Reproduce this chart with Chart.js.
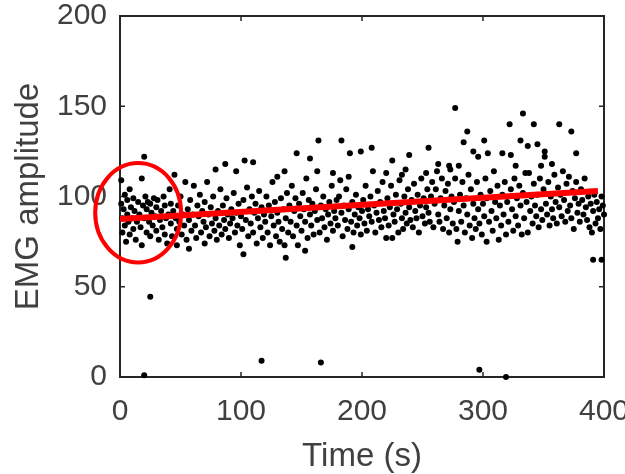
<!DOCTYPE html>
<html>
<head>
<meta charset="utf-8">
<script src="https://cdn.jsdelivr.net/npm/chart.js@4"></script>
<style>
    html, body { margin: 0; padding: 0; background: #ffffff; }
    #wrap { width: 625px; height: 474px; }
</style>
</head>
<body>
<div id="wrap"><canvas id="emgChart" width="625" height="474"></canvas></div>
<script>
// EMG amplitude over time - scatter with linear fit

// Samples: [time (s), EMG amplitude]
const emgSamples = [
    [1,109],[1,96],[2,88],[2,80],[3,93],[4,101],[4,84],[5,75],[6,90],[6,98],[7,86],[8,79],[8,104],[9,94],[10,88],[11,82],[11,99],[12,92],[13,76],[14,86],[15,97],[16,90],[17,83],[18,110],[18,73],[19,95],
    [20,122],[20,1],[20,88],[21,100],[22,80],[22,93],[23,97],[24,86],[25,44.5],[25,78],[25,96],[26,91],[27,84],[28,99],[29,89],[30,81],[30,94],[31,98],[32,76],[33,87],[34,92],[35,83],[36,100],[37,79],[37,95],[38,88],[39,74],[40,90],
    [41,104],[42,85],[42,96],[43,78],[44,92],[45,112],[46,88],[47,73],[47,82],[48,95],[49,86],[50,100],[51,79],[52,90],[53,84],[54,108],[55,76],[56,93],[57,71],[57,87],[58,98],[59,81],[60,90],
    [61,106],[62,84],[63,77],[64,95],[65,89],[66,101],[67,80],[68,92],[69,86],[70,74],[70,97],[71,83],[72,108],[73,90],[74,78],[75,94],[76,85],[77,100],[78,81],[79,115],[79,88],[80,76],
    [81,92],[82,84],[83,104],[84,79],[85,95],[86,87],[87,118],[87,82],[88,99],[89,90],[90,77],[91,85],[92,93],[93,88],[94,102],[95,80],[96,114],[96,91],[97,84],[98,96],[99,73],[100,89],
    [101,82],[102,68],[102,98],[103,120],[104,87],[105,105],[106,78],[107,93],[108,85],[109,100],[110,119],[110,80],[111,91],[112,96],[113,74],[114,88],[115,103],[116,83],[117,9],[117,94],[118,77],[119,90],[120,86],
    [121,100],[122,80],[123,95],[124,73],[125,89],[126,108],[127,84],[128,97],[129,78],[130,111],[130,91],[131,86],[132,75],[133,99],[134,82],[135,93],[136,114],[136,73],[137,66],[137,88],[138,102],[139,80],[140,95],
    [141,86],[142,106],[143,78],[144,92],[145,99],[146,124],[146,84],[147,73],[148,96],[149,89],[150,81],[151,102],[152,93],[153,70],[153,86],[154,110],[155,77],[156,98],[157,121],[157,90],[158,84],[159,96],[160,79],
    [161,92],[162,104],[163,114],[163,87],[164,131],[165,80],[166,8],[166,95],[167,88],[168,100],[169,83],[170,93],[171,76],[172,90],[173,97],[174,85],[175,106],[176,113],[176,81],[177,92],[178,88],[179,98],[180,84],
    [181,100],[182,109],[183,131],[183,91],[184,78],[185,95],[186,87],[187,104],[188,82],[189,111],[189,93],[190,124],[191,86],[192,72],[192,97],[193,80],[194,90],[195,101],[196,84],[197,94],[198,88],[199,125],[199,79],[200,92],
    [201,98],[202,85],[203,106],[204,81],[205,93],[206,89],[207,100],[208,127],[208,86],[209,114],[210,95],[211,80],[212,91],[213,103],[214,87],[215,97],[216,83],[217,108],[218,92],[219,88],[220,113],[220,77],
    [221,99],[222,84],[223,94],[224,106],[225,77],[225,120],[226,90],[227,86],[228,101],[229,93],[230,80],[231,109],[232,96],[233,112],[233,88],[234,82],[235,100],[236,115],[236,91],[237,85],[238,104],[239,123],[239,94],[240,87],
    [241,98],[242,83],[243,107],[244,92],[245,88],[246,101],[247,80],[248,95],[249,110],[250,89],[251,99],[252,85],[253,113],[253,94],[254,104],[255,127],[255,91],[256,86],[257,100],[258,108],[259,83],[260,96],
    [261,104],[262,114],[263,118],[263,90],[264,86],[265,99],[266,110],[267,82],[268,95],[269,103],[270,88],[271,107],[272,117],[272,80],[273,115],[273,93],[274,100],[275,85],[276,97],[277,149],[277,110],[278,82],[279,75],[280,117],[280,92],
    [281,101],[282,86],[283,108],[284,130],[284,95],[285,80],[286,99],[287,136],[287,90],[288,112],[289,84],[290,104],[291,77],[292,125],[292,96],[293,88],[294,82],[295,108],[296,122],[296,93],[297,4],[297,85],[298,101],[299,79],[300,96],
    [301,131],[301,89],[302,110],[303,75],[303,99],[304,124],[305,86],[306,103],[307,92],[308,81],[309,114],[310,97],[311,88],[312,106],[313,76],[314,95],[315,84],[316,124],[316,101],[317,90],[318,108],[319,0],[319,79],[320,97],
    [321,86],[322,140],[323,123],[323,104],[324,93],[325,81],[326,110],[327,117],[327,89],[328,99],[329,84],[330,106],[331,131],[331,95],[332,79],[333,146],[333,102],[334,88],[335,113],[336,97],[337,128],[337,80],[338,113],[339,92],[340,100],
    [341,85],[342,140],[342,107],[343,95],[344,89],[345,129],[345,101],[346,83],[347,110],[348,117],[348,93],[349,87],[350,104],[351,125],[351,122],[352,96],[353,90],[354,108],[355,84],[356,100],[357,118],[357,93],[358,88],[359,112],[360,97],
    [361,85],[362,105],[363,140],[363,94],[364,101],[365,89],[366,114],[367,98],[368,86],[369,107],[370,92],[371,111],[372,95],[373,136],[373,88],[374,103],[375,82],[376,99],[377,124],[377,108],[378,91],[379,96],[380,86],
    [381,104],[382,98],[383,90],[384,110],[385,94],[386,87],[387,100],[388,83],[389,96],[390,80],[391,65],[391,92],[392,101],[393,85],[394,97],[395,88],[396,93],[397,82],[398,65],[398,100],[399,95],[400,90]
];

// Linear fit end points
const fitTime = [0, 395];
const fitAmp = [87.5, 103];

// Axis ticks
const xTickValues = [0, 100, 200, 300, 400];
const yTickValues = [0, 50, 100, 150, 200];

// Highlight ellipse (data units)
const markCenter = [15, 91];
const markRadius = [35.5, 27.5];

const AXIS_COLOR = '#262626';
const TEXT_COLOR = '#404040';
const FONT = "'Liberation Sans', Arial, sans-serif";
const TICK_LEN = 5;

// Box frame + inward ticks (MATLAB style)
const boxPlugin = {
    id: 'boxFrame',
    beforeDatasetsDraw(chart) {
        const { ctx, chartArea: a, scales: { x, y } } = chart;
        ctx.save();
        ctx.strokeStyle = AXIS_COLOR;
        ctx.lineWidth = 2;
        ctx.strokeRect(a.left, a.top, a.right - a.left, a.bottom - a.top);
        ctx.lineWidth = 1.5;
        ctx.beginPath();
        xTickValues.forEach(v => {
            const px = x.getPixelForValue(v);
            ctx.moveTo(px, a.bottom); ctx.lineTo(px, a.bottom - TICK_LEN);
            ctx.moveTo(px, a.top); ctx.lineTo(px, a.top + TICK_LEN);
        });
        yTickValues.forEach(v => {
            const py = y.getPixelForValue(v);
            ctx.moveTo(a.left, py); ctx.lineTo(a.left + TICK_LEN, py);
            ctx.moveTo(a.right, py); ctx.lineTo(a.right - TICK_LEN, py);
        });
        ctx.stroke();
        ctx.restore();
    }
};

// Red ellipse round the first seconds
const markPlugin = {
    id: 'markEllipse',
    afterDatasetsDraw(chart) {
        const { ctx, scales: { x, y } } = chart;
        const cx = x.getPixelForValue(markCenter[0]);
        const cy = y.getPixelForValue(markCenter[1]);
        const rx = Math.abs(x.getPixelForValue(markCenter[0] + markRadius[0]) - cx);
        const ry = Math.abs(y.getPixelForValue(markCenter[1] + markRadius[1]) - cy);
        ctx.save();
        ctx.strokeStyle = '#ff0000';
        ctx.lineWidth = 4;
        ctx.beginPath();
        ctx.ellipse(cx, cy, rx, ry, 0, 0, Math.PI * 2);
        ctx.stroke();
        ctx.restore();
    }
};

const ctx = document.getElementById('emgChart');

new Chart(ctx, {
    type: 'scatter',
    data: {
        datasets: [{
            type: 'line',
            label: 'Fit',
            data: fitTime.map((t, i) => ({ x: t, y: fitAmp[i] })),
            borderColor: '#ff0000',
            borderWidth: 6,
            pointRadius: 0,
            showLine: true,
            fill: false
        }, {
            label: 'EMG',
            data: emgSamples.map(s => ({ x: s[0], y: s[1] })),
            backgroundColor: '#000000',
            borderWidth: 0,
            pointRadius: 3,
            clip: false
        }]
    },
    options: {
        responsive: false,
        animation: false,
        events: [],
        layout: {
            padding: { left: 0, right: 21, top: 16, bottom: 0 }
        },
        plugins: {
            legend: { display: false },
            tooltip: { enabled: false }
        },
        scales: {
            x: {
                type: 'linear',
                min: 0,
                max: 400,
                afterBuildTicks: (scale) => { scale.ticks = xTickValues.map(v => ({ value: v })); },
                afterFit: (scale) => { scale.height = 97; scale.paddingLeft = 0; scale.paddingRight = 0; },
                grid: { display: false, drawTicks: false },
                border: { display: false },
                ticks: {
                    color: TEXT_COLOR,
                    padding: 17,
                    maxRotation: 0,
                    font: { family: FONT, size: 30 }
                },
                title: {
                    display: true,
                    text: 'Time (s)',
                    color: TEXT_COLOR,
                    padding: { top: 0, bottom: -3 },
                    font: { family: FONT, size: 33 }
                }
            },
            y: {
                type: 'linear',
                min: 0,
                max: 200,
                afterBuildTicks: (scale) => { scale.ticks = yTickValues.map(v => ({ value: v })); },
                afterFit: (scale) => { scale.width = 120; scale.paddingTop = 0; scale.paddingBottom = 0; },
                grid: { display: false, drawTicks: false },
                border: { display: false },
                ticks: {
                    color: TEXT_COLOR,
                    padding: 13,
                    font: { family: FONT, size: 30 }
                },
                title: {
                    display: true,
                    text: 'EMG amplitude',
                    color: TEXT_COLOR,
                    padding: { top: 9, bottom: 0 },
                    font: { family: FONT, size: 33 }
                }
            }
        }
    },
    plugins: [boxPlugin, markPlugin]
});
</script>
</body>
</html>
